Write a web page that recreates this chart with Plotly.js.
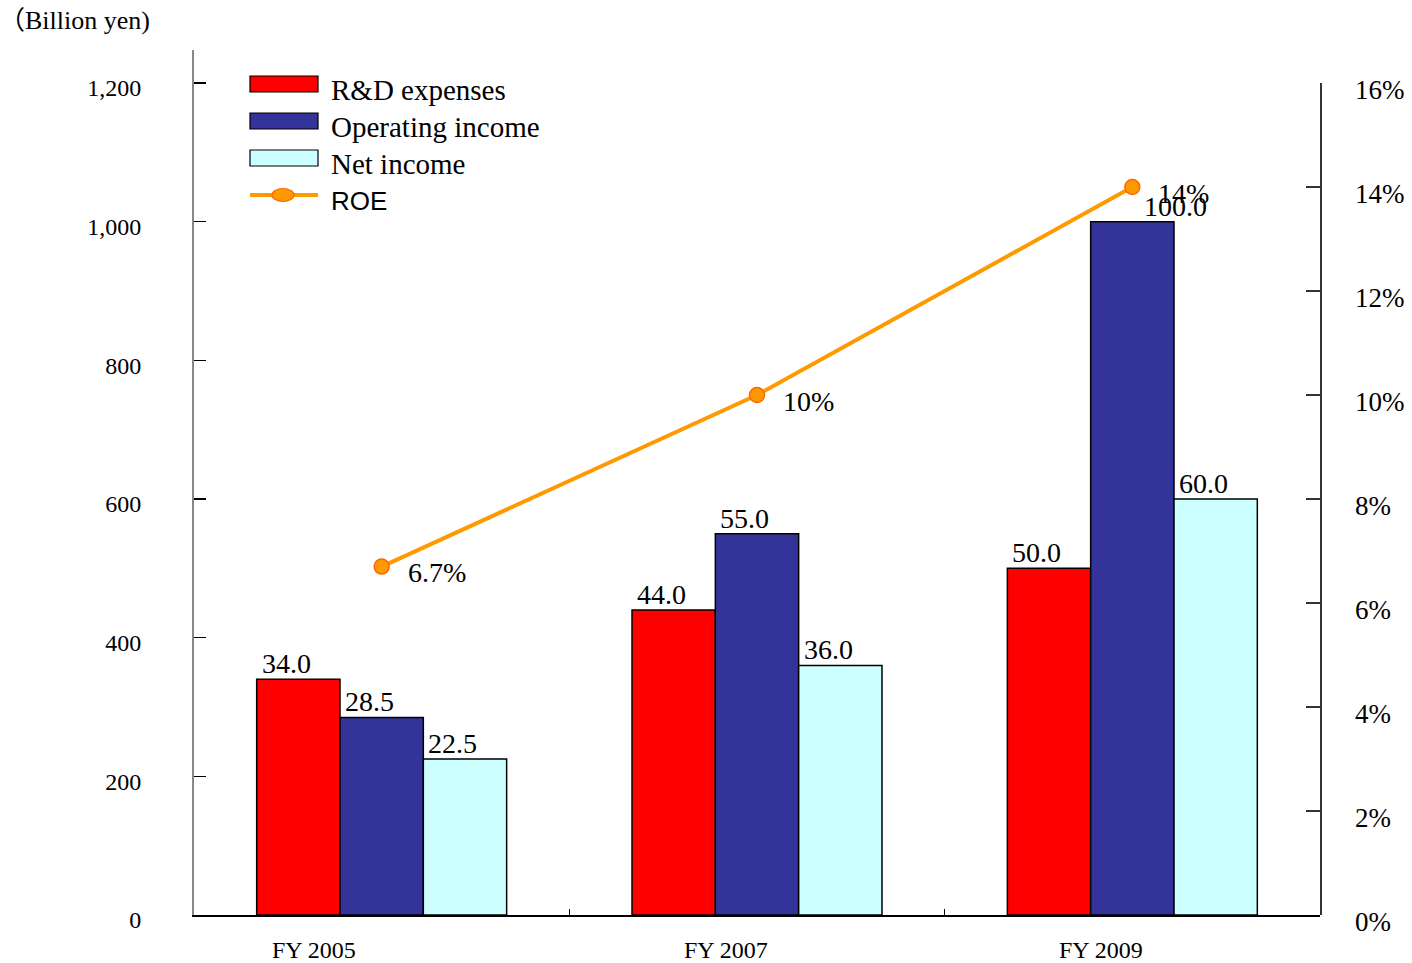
<!DOCTYPE html>
<html>
<head>
<meta charset="utf-8">
<script src="https://cdn.plot.ly/plotly-3.0.1.min.js"></script>
<style>
  html, body { margin: 0; padding: 0; background: #fff; }
  #chart { width: 1412px; height: 963px; }
</style>
</head>
<body>
<div id="chart"></div>
<script>
// Fiscal years shown on the category axis
const years = ['FY 2005', 'FY 2007', 'FY 2009'];

// Series values as printed on the bars
const rdExpenses      = [34.0, 44.0, 50.0];
const operatingIncome = [28.5, 55.0, 100.0];
const netIncome       = [22.5, 36.0, 60.0];

// Return on equity, percent (right axis)
const roe       = [6.7, 10, 14];
const roeLabels = ['6.7%', '10%', '14%'];

// Left-axis ticks (billion yen) and right-axis ticks (percent)
const leftTicks  = [0, 200, 400, 600, 800, 1000, 1200];
const rightTicks = [0, 2, 4, 6, 8, 10, 12, 14, 16];

const seriesNames  = ['R&D expenses', 'Operating income', 'Net income'];
const seriesValues = [rdExpenses, operatingIncome, netIncome];

// ---- styling / geometry ----
const W = 1412, H = 963;
const M = { l: 194, r: 92, t: 50, b: 48 };
const plotW = W - M.l - M.r, plotH = H - M.t - M.b;
const SERIF = 'Liberation Serif, Times New Roman, serif';
const SANS = 'Liberation Sans, Arial, sans-serif';
const colors = ['#ff0000', '#333399', '#ccffff'];
const ORANGE = '#ff9900';
const BAR_SCALE = 10;          // printed bar figures are read against the axis ×10
const LEFT_MAX = 1247.6;       // left axis runs a little above its 1,200 tick
const BARGAP = 0.334;
const barW = (1 - BARGAP) / 3;
const offsets = [-1.5 * barW, -0.5 * barW, 0.5 * barW];
const yearShift = [-68, -31, -31];

// pixel helpers for paper-referenced items
const px = x => (x - M.l) / plotW;
const py = y => 1 - (y - M.t) / plotH;

const traces = seriesValues.map((vals, j) => ({
  type: 'bar',
  name: seriesNames[j],
  x: years,
  y: vals.map(v => v * BAR_SCALE),
  offset: offsets[j],
  width: barW,
  marker: { color: colors[j], line: { color: '#000', width: 1.5 } },
  hoverinfo: 'skip',
  showlegend: false
}));

traces.push({
  type: 'scatter',
  mode: 'lines+markers',
  name: 'ROE',
  x: years,
  y: roe,
  yaxis: 'y2',
  line: { color: ORANGE, width: 4 },
  marker: { color: ORANGE, size: 15, line: { color: '#ff6600', width: 1.5 } },
  hoverinfo: 'skip',
  showlegend: false
});

const annotations = [];

// value labels above each bar
seriesValues.forEach((vals, j) => {
  vals.forEach((v, i) => {
    const wide = v >= 100;
    annotations.push({
      x: i + offsets[j], y: v * BAR_SCALE, xref: 'x', yref: 'y',
      text: v.toFixed(1), showarrow: false,
      xanchor: 'left', yanchor: 'bottom',
      xshift: wide ? 51 : 3, yshift: -2,
      font: { family: SERIF, size: 28, color: '#000' }
    });
  });
});

// ROE labels
roe.forEach((v, i) => {
  annotations.push({
    x: i, y: v, xref: 'x', yref: 'y2',
    text: roeLabels[i], showarrow: false,
    xanchor: 'left', yanchor: 'middle',
    xshift: 24, yshift: -6,
    font: { family: SERIF, size: 28, color: '#000' }
  });
});

// category labels under the axis
years.forEach((label, i) => {
  annotations.push({
    x: i, y: 0, xref: 'x', yref: 'paper',
    text: label, showarrow: false,
    xanchor: 'center', yanchor: 'middle',
    xshift: yearShift[i], yshift: -35,
    font: { family: SERIF, size: 24, color: '#000' }
  });
});

// unit caption
annotations.push({
  x: px(-3), y: py(21), xref: 'paper', yref: 'paper',
  text: '（Billion yen)', showarrow: false,
  xanchor: 'left', yanchor: 'middle',
  font: { family: SERIF + ', Noto Sans CJK JP', size: 26, color: '#000' }
});

// legend
const shapes = [];
const legendRows = [84, 121, 158, 195];
seriesNames.forEach((name, j) => {
  const cy = legendRows[j];
  shapes.push({
    type: 'rect', xref: 'paper', yref: 'paper',
    x0: px(250), x1: px(318), y0: py(cy + 8), y1: py(cy - 8),
    fillcolor: colors[j], line: { color: '#000', width: 1.2 }
  });
  annotations.push({
    x: px(329), y: py(cy + 6), xref: 'paper', yref: 'paper',
    text: name, showarrow: false, xanchor: 'left', yanchor: 'middle',
    font: { family: SERIF, size: 29, color: '#000' }
  });
});
{
  const cy = legendRows[3];
  shapes.push({
    type: 'line', xref: 'paper', yref: 'paper',
    x0: px(250), x1: px(318), y0: py(cy), y1: py(cy),
    line: { color: ORANGE, width: 4 }
  });
  shapes.push({
    type: 'circle', xref: 'paper', yref: 'paper',
    x0: px(272), x1: px(294), y0: py(cy + 6.5), y1: py(cy - 6.5),
    fillcolor: ORANGE, line: { color: '#ff6600', width: 1.2 }
  });
  annotations.push({
    x: px(329), y: py(cy + 6), xref: 'paper', yref: 'paper',
    text: 'ROE', showarrow: false, xanchor: 'left', yanchor: 'middle',
    font: { family: SANS, size: 26, color: '#000' }
  });
}

const layout = {
  width: W, height: H,
  margin: M,
  paper_bgcolor: '#fff', plot_bgcolor: 'rgba(0,0,0,0)',
  barmode: 'group',
  bargap: BARGAP, bargroupgap: 0,
  showlegend: false,
  xaxis: {
    type: 'category', range: [-0.5, 2.5],
    showline: true, linecolor: '#000', linewidth: 1.5,
    ticks: 'inside', tickson: 'boundaries', ticklen: 6, tickcolor: '#000',
    showticklabels: false, showgrid: false, zeroline: false
  },
  yaxis: {
    range: [0, LEFT_MAX],
    tickvals: leftTicks, tickformat: ',',
    ticks: 'inside', ticklen: 12, tickcolor: '#000', tickwidth: 1.2,
    showline: true, linecolor: '#888', linewidth: 2,
    showgrid: false, zeroline: false,
    ticklabelstandoff: 46, ticklabelshift: 5,
    tickfont: { family: SERIF, size: 24, color: '#000' }
  },
  yaxis2: {
    anchor: 'x', side: 'right',
    domain: [0, 832 / plotH],
    range: [0, 16],
    tickvals: rightTicks, ticktext: rightTicks.map(v => v + '%'),
    ticks: 'inside', ticklen: 14, tickcolor: '#333', tickwidth: 1.2,
    showline: true, linecolor: '#333', linewidth: 1.5,
    showgrid: false, zeroline: false,
    ticklabelstandoff: 28, ticklabelshift: 7,
    tickfont: { family: SERIF, size: 27, color: '#000' }
  },
  annotations: annotations,
  shapes: shapes
};

Plotly.newPlot('chart', traces, layout, { displayModeBar: false, staticPlot: true });
</script>
</body>
</html>
